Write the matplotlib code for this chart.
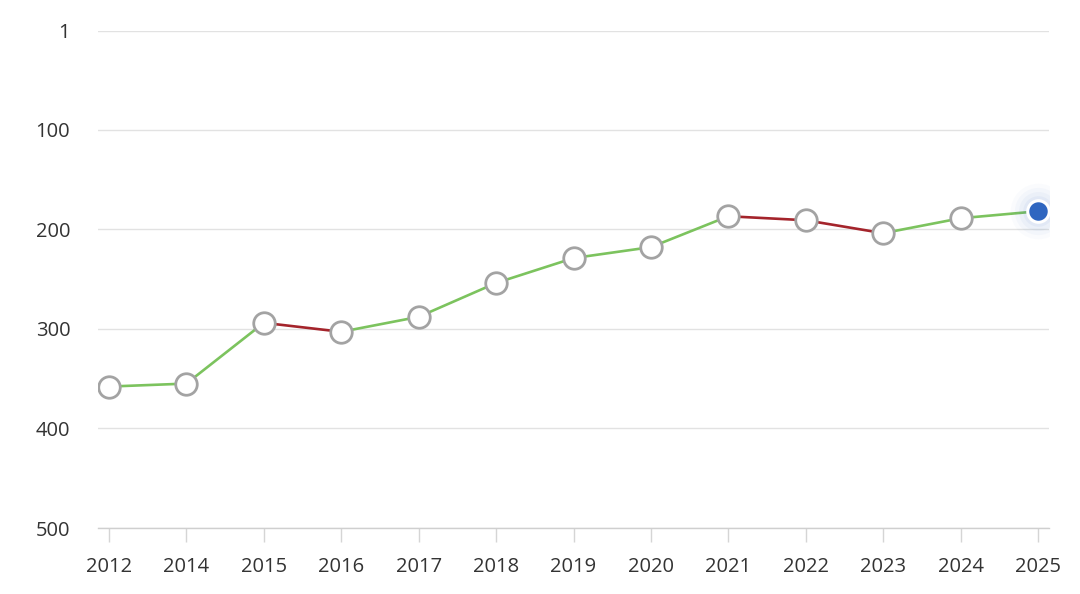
import matplotlib.pyplot as plt
import numpy as np

years = ["2012", "2014", "2015", "2016", "2017", "2018", "2019",
         "2020", "2021", "2022", "2023", "2024", "2025"]
ranks = [358, 355, 294, 303, 288, 254, 229, 218, 187, 191, 204, 189, 182]
yticks = [1, 100, 200, 300, 400, 500]

GREEN = "#7cc35e"
RED = "#a4242b"
GRID = "#e2e2e2"
TEXT = "#333333"

plt.rcParams['font.family'] = ['Open Sans', 'DejaVu Sans']

fig = plt.figure(figsize=(10.8, 5.94), dpi=100)
ax = fig.add_axes([98 / 1080, 1 - 528 / 594, (1049 - 98) / 1080, (528 - 31) / 594])

x = np.arange(len(years))

# segments: green when rank improves (goes up), red when it drops
for i in range(len(x) - 1):
    col = GREEN if ranks[i + 1] < ranks[i] else RED
    ax.plot(x[i:i + 2], ranks[i:i + 2], color=col, lw=1.9, zorder=2,
            solid_capstyle='round')

ax.plot(x[:-1], ranks[:-1], 'o', ms=15.5, mfc='white', mec='#a3a3a3',
        mew=2, zorder=3)

# soft glow around the latest point
for s, a in [(40, 0.025), (34, 0.03), (28, 0.04), (22, 0.05)]:
    ax.plot(x[-1], ranks[-1], 'o', ms=s, mfc='#2f66c0', mec='none',
            alpha=a, zorder=3)
ax.plot(x[-1], ranks[-1], 'o', ms=15.5, mfc='#2f66c0', mec='white',
        mew=2.2, zorder=4)

ax.set_xlim(-0.142, len(years) - 1 + 0.142)
ax.set_ylim(500, 1)
ax.set_yticks(yticks)
ax.set_xticks(x)
ax.set_xticklabels(years)

ax.yaxis.grid(True, color=GRID, lw=1)
ax.set_axisbelow(True)
for s in ['top', 'right', 'left']:
    ax.spines[s].set_visible(False)
ax.spines['bottom'].set_color('#cfcfcf')
ax.spines['bottom'].set_linewidth(1)

ax.tick_params(axis='y', length=0, pad=20, labelsize=14.5, labelcolor=TEXT)
ax.tick_params(axis='x', length=10, width=1, color='#d5d5d5', pad=11,
               labelsize=14.5, labelcolor=TEXT)

fig.savefig("out.png", dpi=100)
